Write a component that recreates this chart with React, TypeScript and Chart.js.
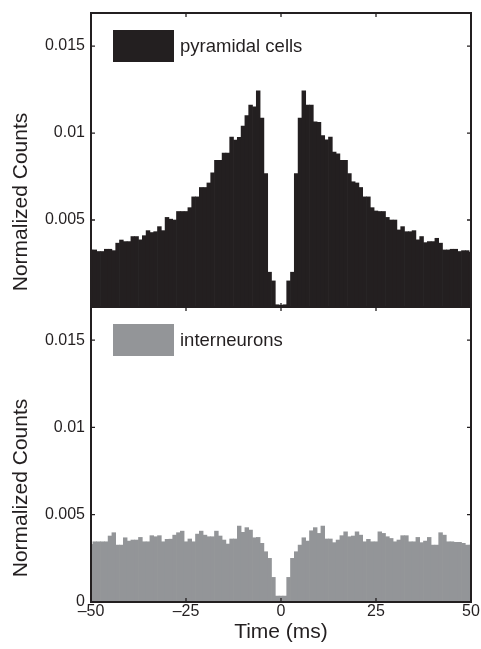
import React, { useEffect, useRef } from "react";
import { Chart, registerables } from "chart.js";

Chart.register(...registerables);

// ---- data ----
const lagsMs: number[] = Array.from({ length: 101 }, (_, i) => i - 50);

const pyramidalCounts: number[] = [
  0.00328, 0.00328, 0.00319, 0.00319, 0.00332, 0.00332, 0.00324, 0.00367, 0.00385, 0.00376,
  0.00376, 0.00405, 0.00405, 0.00386, 0.0041, 0.00439, 0.00428, 0.00433, 0.00462, 0.00439,
  0.00515, 0.00505, 0.005, 0.00549, 0.00549, 0.00549, 0.00571, 0.00633, 0.00633, 0.00687,
  0.00687, 0.00713, 0.00771, 0.00843, 0.00843, 0.00885, 0.00885, 0.00977, 0.0096, 0.00975,
  0.0104, 0.011, 0.0116, 0.0115, 0.01243, 0.01086, 0.00767, 0.002, 0.0015, 0.00013,
  0.0001,
  0.00013, 0.0015, 0.002, 0.00767, 0.01086, 0.01243, 0.0116, 0.0116, 0.01065, 0.01062,
  0.00986, 0.00961, 0.00977, 0.00891, 0.0088, 0.00843, 0.00843, 0.00767, 0.0072, 0.00713,
  0.00687, 0.00633, 0.00633, 0.00571, 0.00552, 0.00549, 0.00549, 0.00515, 0.005, 0.005,
  0.00443, 0.00462, 0.00433, 0.00433, 0.00439, 0.00386, 0.00405, 0.0037, 0.00376, 0.00376,
  0.00395, 0.00367, 0.00328, 0.00328, 0.00332, 0.00332, 0.00319, 0.00324, 0.00324, 0.00315,
];

const interneuronCounts: number[] = [
  0.0033, 0.00345, 0.00345, 0.00345, 0.00345, 0.00378, 0.00397, 0.00326, 0.00326, 0.00368,
  0.00349, 0.00355, 0.00355, 0.0037, 0.00345, 0.00345, 0.0038, 0.00374, 0.0038, 0.00345,
  0.00359, 0.0036, 0.00383, 0.00397, 0.00406, 0.00345, 0.00361, 0.00345, 0.00389, 0.00406,
  0.00383, 0.00374, 0.00374, 0.00406, 0.00378, 0.00355, 0.00332, 0.00361, 0.00361, 0.00435,
  0.00399, 0.00426, 0.00412, 0.00368, 0.0037, 0.00336, 0.00288, 0.0025, 0.00141, 0.00034,
  0.00034,
  0.00034, 0.00141, 0.0025, 0.00288, 0.00326, 0.00368, 0.00349, 0.00408, 0.00426, 0.00393,
  0.00435, 0.00361, 0.00361, 0.0034, 0.00355, 0.0038, 0.00402, 0.00374, 0.00378, 0.00402,
  0.00383, 0.00345, 0.00359, 0.00345, 0.00345, 0.00402, 0.00393, 0.00374, 0.00364, 0.00345,
  0.00355, 0.0038, 0.0038, 0.00345, 0.00345, 0.0037, 0.0034, 0.00349, 0.0037, 0.00326,
  0.00326, 0.00397, 0.00383, 0.00345, 0.00345, 0.00342, 0.00342, 0.00336, 0.00326, 0.00326,
];

const xTickValues: number[] = [-50, -25, 0, 25, 50];
const yTickValues: number[] = [0, 0.005, 0.01, 0.015];
const xRange: number[] = [-50, 50];
const yRange: number[] = [0, 0.0169];

const seriesNames: string[] = ["pyramidal cells", "interneurons"];
const yAxisTitle = "Normalized Counts";
const xAxisTitle = "Time (ms)";

// ---- style ----
const INK = "#231f20";
const GREY = "#939598";
const FONT = "'Liberation Sans', Arial, Helvetica, sans-serif";
const TICK_LEN = 4;

const panelDeco = {
  id: "panelDeco",
  afterDatasetsDraw(chart: any, _args: any, opts: any) {
    const { ctx, chartArea: a, scales } = chart;
    const xs = scales.x;
    const ys = scales.y;
    ctx.save();
    // frame
    ctx.strokeStyle = INK;
    ctx.lineWidth = 2;
    ctx.strokeRect(a.left, a.top, a.right - a.left, a.bottom - a.top);
    // inward ticks
    ctx.lineWidth = 1.3;
    ctx.beginPath();
    for (const v of yTickValues) {
      const py = ys.getPixelForValue(v);
      ctx.moveTo(a.left, py);
      ctx.lineTo(a.left + TICK_LEN, py);
      ctx.moveTo(a.right, py);
      ctx.lineTo(a.right - TICK_LEN, py);
    }
    for (const v of xTickValues) {
      const px = xs.getPixelForValue(v);
      ctx.moveTo(px, a.bottom);
      ctx.lineTo(px, a.bottom - TICK_LEN);
      ctx.moveTo(px, a.top);
      ctx.lineTo(px, a.top + TICK_LEN);
    }
    ctx.stroke();
    // legend
    const bx = a.left + 22;
    const by = a.top + 17;
    const bw = 61;
    const bh = 32;
    ctx.fillStyle = opts.color;
    ctx.fillRect(bx, by, bw, bh);
    ctx.fillStyle = INK;
    ctx.font = `18.5px ${FONT}`;
    ctx.textAlign = "left";
    ctx.textBaseline = "middle";
    ctx.fillText(opts.label, bx + bw + 6, by + bh / 2 + 1);
    // y title
    ctx.translate(21, opts.titleY);
    ctx.rotate(-Math.PI / 2);
    ctx.textAlign = "center";
    ctx.textBaseline = "middle";
    ctx.font = `21px ${FONT}`;
    ctx.fillStyle = INK;
    ctx.fillText(yAxisTitle, 0, 0);
    ctx.restore();
  },
};

function fmtY(v: number): string {
  return v === 0 ? "0" : String(v);
}
function fmtX(v: number): string {
  return v < 0 ? "\u2013" + String(Math.abs(v)) : String(v);
}

interface PanelProps {
  values: number[];
  color: string;
  label: string;
  bottom: boolean;
  canvasHeight: number;
  padTop: number;
  padBottom: number;
  titleY: number;
}

function Panel(p: PanelProps) {
  const ref = useRef<HTMLCanvasElement | null>(null);
  useEffect(() => {
    if (!ref.current) return;
    const chart = new Chart(ref.current, {
      type: "bar",
      data: {
        datasets: [
          {
            label: p.label,
            data: lagsMs.map((t, i) => ({ x: t, y: p.values[i] })),
            backgroundColor: p.color,
            borderWidth: 0,
            barPercentage: 1,
            categoryPercentage: 1,
            clip: 0,
          } as any,
        ],
      },
      options: {
        responsive: false,
        animation: false,
        events: [],
        layout: { padding: { left: 0, right: 10, top: p.padTop, bottom: p.padBottom } },
        plugins: {
          legend: { display: false },
          tooltip: { enabled: false },
          panelDeco: { color: p.color, label: p.label, titleY: p.titleY },
        } as any,
        scales: {
          x: {
            type: "linear",
            min: xRange[0],
            max: xRange[1],
            offset: false,
            display: p.bottom,
            grid: { display: false, drawTicks: false, offset: false },
            border: { display: false },
            afterBuildTicks: (s: any) => {
              s.ticks = xTickValues.map((v) => ({ value: v }));
            },
            afterFit: (s: any) => {
              s.height = p.bottom ? 47 : 0;
              s.paddingLeft = 0;
              s.paddingRight = 0;
            },
            ticks: {
              padding: 0,
              maxRotation: 0,
              autoSkip: false,
              color: INK,
              font: { family: FONT, size: 16 },
              callback: (v: any) => fmtX(Number(v)),
            },
            title: {
              display: p.bottom,
              text: xAxisTitle,
              color: INK,
              font: { family: FONT, size: 21 },
              padding: { top: 0, bottom: 4 },
            },
          } as any,
          y: {
            type: "linear",
            min: yRange[0],
            max: yRange[1],
            grid: { display: false, drawTicks: false },
            border: { display: false },
            afterBuildTicks: (s: any) => {
              s.ticks = yTickValues.map((v) => ({ value: v }));
            },
            afterFit: (s: any) => {
              s.width = 91;
              s.paddingTop = 0;
              s.paddingBottom = 0;
            },
            ticks: {
              padding: 6,
              color: INK,
              font: { family: FONT, size: 16 },
              callback: (v: any) => (!p.bottom && Number(v) === 0 ? "" : fmtY(Number(v))),
            },
          } as any,
        },
      },
      plugins: [panelDeco],
    });
    return () => chart.destroy();
  }, []);
  return (
    <canvas
      ref={ref}
      width={481}
      height={p.canvasHeight}
      style={{ position: "absolute", left: 0, top: 0, width: 481, height: p.canvasHeight }}
    />
  );
}

export default function App() {
  return (
    <div style={{ position: "fixed", left: 0, top: 0, width: 481, height: 649, background: "#fff" }}>
      <Panel
        values={pyramidalCounts}
        color={INK}
        label={seriesNames[0]}
        bottom={false}
        canvasHeight={320}
        padTop={13}
        padBottom={13}
        titleY={202}
      />
      <Panel
        values={interneuronCounts}
        color={GREY}
        label={seriesNames[1]}
        bottom={true}
        canvasHeight={649}
        padTop={307}
        padBottom={0}
        titleY={488}
      />
    </div>
  );
}
